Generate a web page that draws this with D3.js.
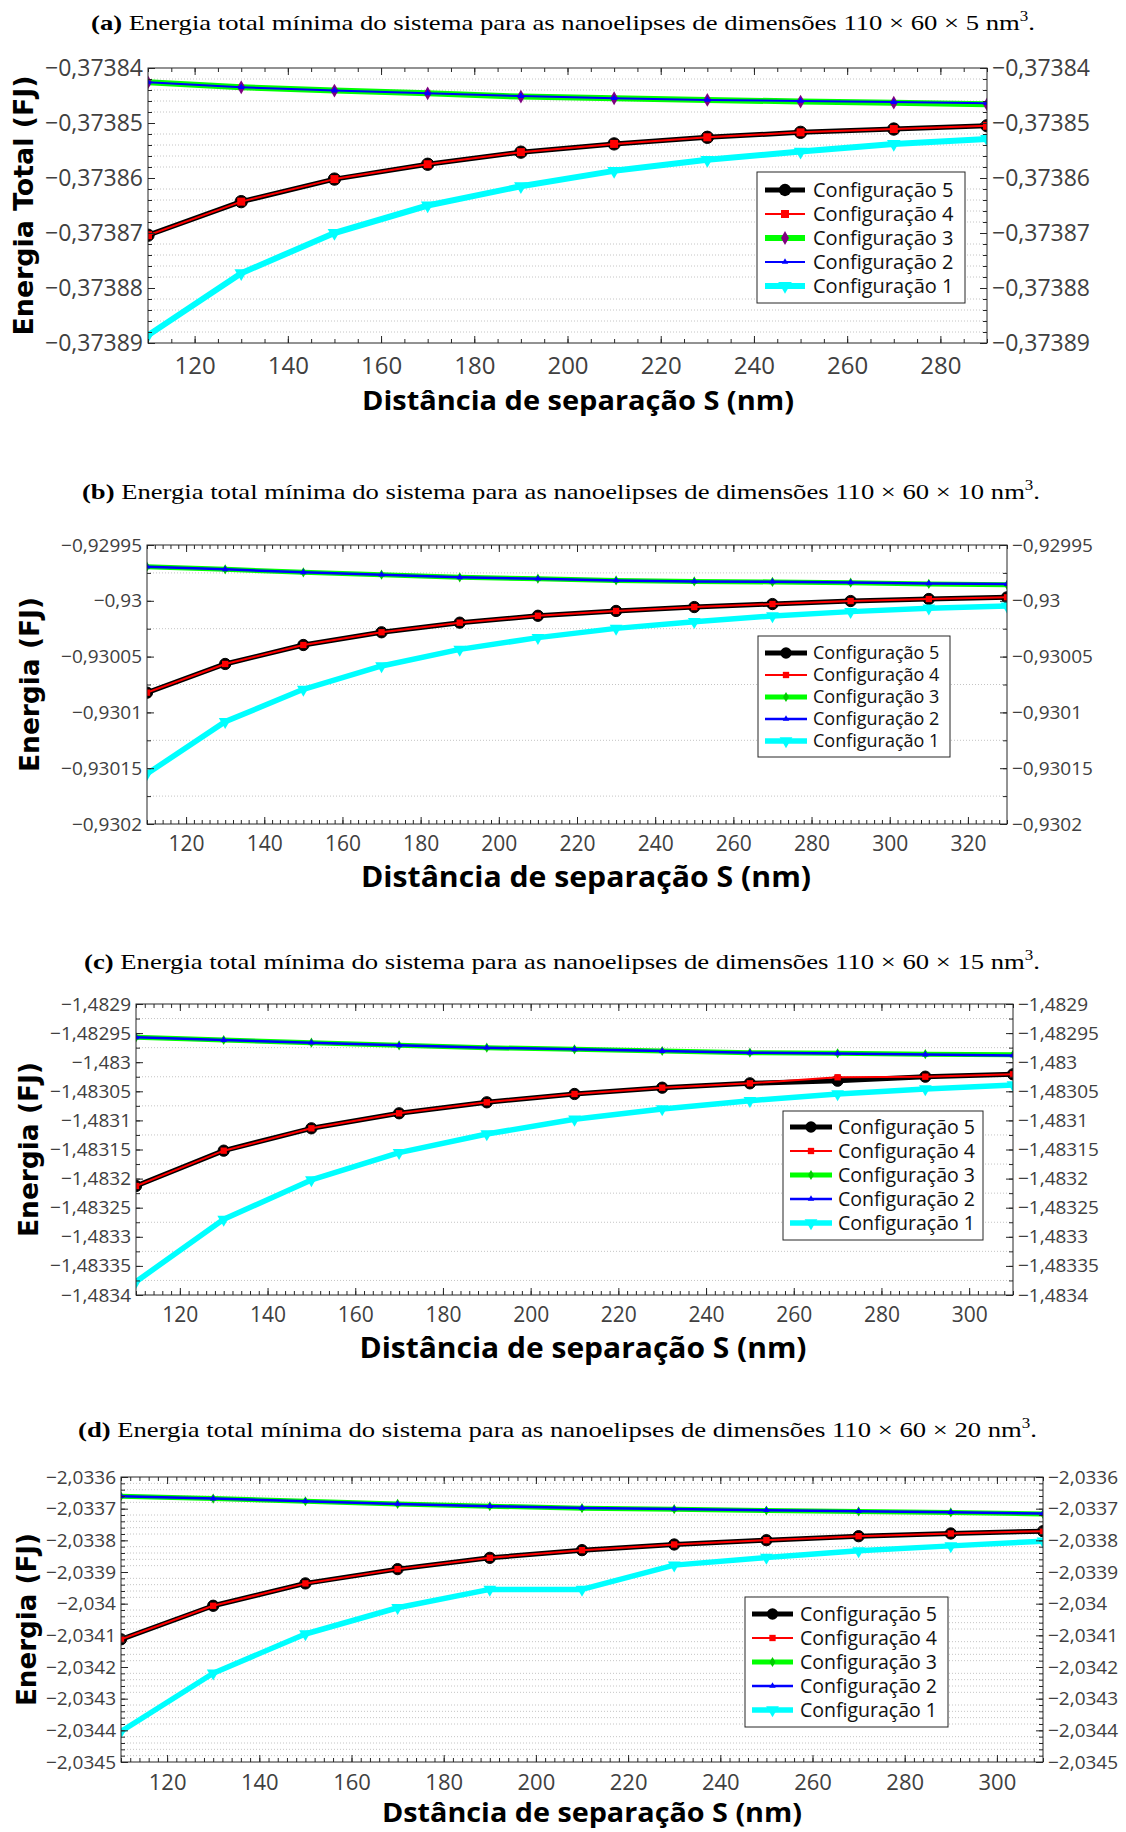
<!DOCTYPE html>
<html>
<head>
<meta charset="utf-8">
<script src="https://cdn.jsdelivr.net/npm/d3@7"></script>
<style>
	body { margin: 0; background: #fff; }
	svg { display: block; }
</style>
</head>
<body>
<div id="chart"></div>
<script>

// separation distances S (nm)
const sepA = [110, 130, 150, 170, 190, 210, 230, 250, 270, 290];
const sepB = [110, 130, 150, 170, 190, 210, 230, 250, 270, 290, 310, 330];
const sepC = [110, 130, 150, 170, 190, 210, 230, 250, 270, 290, 310];
const sepD = [110, 130, 150, 170, 190, 210, 230, 250, 270, 290, 310];

const seriesNames = ['Configuração 5', 'Configuração 4', 'Configuração 3', 'Configuração 2', 'Configuração 1'];

// (a) 110 x 60 x 5 nm3
const aConf5 = [-0.3738704, -0.3738643, -0.3738602, -0.3738575, -0.3738553, -0.3738538, -0.3738526, -0.3738517, -0.3738511, -0.3738505];
const aConf4 = [-0.3738704, -0.3738643, -0.3738602, -0.3738575, -0.3738553, -0.3738538, -0.3738526, -0.3738517, -0.3738511, -0.3738505];
const aConf3 = [-0.3738426, -0.3738435, -0.3738441, -0.3738446, -0.3738452, -0.3738455, -0.3738458, -0.3738461, -0.3738463, -0.3738466];
const aConf2 = [-0.3738426, -0.3738435, -0.3738441, -0.3738446, -0.3738451, -0.3738455, -0.3738458, -0.3738460, -0.3738462, -0.3738464];
const aConf1 = [-0.3738886, -0.3738773, -0.3738700, -0.3738650, -0.3738615, -0.3738587, -0.3738567, -0.3738552, -0.3738538, -0.3738529];

// (b) 110 x 60 x 10 nm3
const bConf5 = [-0.9300823, -0.9300566, -0.9300396, -0.9300282, -0.9300196, -0.9300134, -0.9300091, -0.9300056, -0.9300029, -0.9300002, -0.9299984, -0.9299969];
const bConf4 = [-0.9300823, -0.9300566, -0.9300396, -0.9300282, -0.9300196, -0.9300134, -0.9300091, -0.9300056, -0.9300029, -0.9300002, -0.9299984, -0.9299969];
const bConf3 = [-0.9299694, -0.9299718, -0.9299745, -0.9299766, -0.9299790, -0.9299802, -0.9299817, -0.9299826, -0.9299831, -0.9299838, -0.9299849, -0.9299857];
const bConf2 = [-0.9299694, -0.9299718, -0.9299745, -0.9299766, -0.9299790, -0.9299802, -0.9299817, -0.9299826, -0.9299829, -0.9299835, -0.9299844, -0.9299850];
const bConf1 = [-0.9301550, -0.9301083, -0.9300793, -0.9300584, -0.9300435, -0.9300330, -0.9300247, -0.9300187, -0.9300136, -0.9300097, -0.9300067, -0.9300047];

// (c) 110 x 60 x 15 nm3
const cConf5 = [-1.4832127, -1.4831520, -1.4831136, -1.4830878, -1.4830689, -1.4830546, -1.4830438, -1.4830363, -1.4830318, -1.4830249, -1.4830208];
const cConf4 = [-1.4832127, -1.4831520, -1.4831136, -1.4830878, -1.4830689, -1.4830546, -1.4830438, -1.4830363, -1.4830259, -1.4830249, -1.4830208];
const cConf3 = [-1.4829572, -1.4829619, -1.4829665, -1.4829710, -1.4829751, -1.4829779, -1.4829808, -1.4829837, -1.4829847, -1.4829862, -1.4829870];
const cConf2 = [-1.4829572, -1.4829619, -1.4829665, -1.4829710, -1.4829751, -1.4829779, -1.4829808, -1.4829837, -1.4829849, -1.4829868, -1.4829885];
const cConf1 = [-1.4833771, -1.4832700, -1.4832024, -1.4831554, -1.4831234, -1.4830981, -1.4830804, -1.4830661, -1.4830546, -1.4830460, -1.4830392];

// (d) 110 x 60 x 20 nm3
const dConf5 = [-2.0341125, -2.0340066, -2.0339360, -2.0338909, -2.0338553, -2.0338310, -2.0338131, -2.0337995, -2.0337869, -2.0337784, -2.0337711];
const dConf4 = [-2.0341125, -2.0340066, -2.0339360, -2.0338909, -2.0338553, -2.0338310, -2.0338131, -2.0337995, -2.0337869, -2.0337784, -2.0337711];
const dConf3 = [-2.0336608, -2.0336681, -2.0336766, -2.0336851, -2.0336923, -2.0336985, -2.0337015, -2.0337058, -2.0337088, -2.0337120, -2.0337165];
const dConf2 = [-2.0336608, -2.0336681, -2.0336766, -2.0336851, -2.0336923, -2.0336977, -2.0337008, -2.0337049, -2.0337081, -2.0337112, -2.0337155];
const dConf1 = [-2.0344037, -2.0342197, -2.0340958, -2.0340129, -2.0339549, -2.0339549, -2.0338783, -2.0338541, -2.0338332, -2.0338175, -2.0338026];

// tick labels
const aXTicks = [120, 140, 160, 180, 200, 220, 240, 260, 280];
const aYTicks = [-0.37389, -0.37388, -0.37387, -0.37386, -0.37385, -0.37384];
const bXTicks = [120, 140, 160, 180, 200, 220, 240, 260, 280, 300, 320];
const bYTicks = [-0.9302, -0.93015, -0.9301, -0.93005, -0.93, -0.92995];
const cXTicks = [120, 140, 160, 180, 200, 220, 240, 260, 280, 300];
const cYTicks = [-1.4834, -1.48335, -1.4833, -1.48325, -1.4832, -1.48315, -1.4831, -1.48305, -1.483, -1.48295, -1.4829];
const dXTicks = [120, 140, 160, 180, 200, 220, 240, 260, 280, 300];
const dYTicks = [-2.0345, -2.0344, -2.0343, -2.0342, -2.0341, -2.034, -2.0339, -2.0338, -2.0337, -2.0336];

const W = 1126, H = 1832;
const axisColor = '#262626';
const labelColor = '#404040';

// line / marker looks, in legend order (5, 4, 3, 2, 1)
const looksBig = [
	{ color: '#000000', width: 5, marker: d3.symbolCircle, size: 120, fill: '#000000', rot: 0 },
	{ color: '#ff0000', width: 2, marker: d3.symbolSquare, size: 64, fill: '#ff0000', rot: 0 },
	{ color: '#00ff00', width: 6, marker: d3.symbolDiamond, size: 55, fill: '#800080', rot: 0 },
	{ color: '#0000ff', width: 2, marker: d3.symbolTriangle, size: 18, fill: '#0000ff', rot: 0 },
	{ color: '#00ffff', width: 6, marker: d3.symbolTriangle, size: 80, fill: '#00ffff', rot: 180 }
];
const looksSmall = [
	{ color: '#000000', width: 5, marker: d3.symbolCircle, size: 100, fill: '#000000', rot: 0 },
	{ color: '#ff0000', width: 2, marker: d3.symbolSquare, size: 40, fill: '#ff0000', rot: 0 },
	{ color: '#00ff00', width: 5, marker: d3.symbolDiamond, size: 30, fill: '#00cc00', rot: 0 },
	{ color: '#0000ff', width: 2.5, marker: d3.symbolTriangle, size: 18, fill: '#0000ff', rot: 0 },
	{ color: '#00ffff', width: 5.5, marker: d3.symbolTriangle, size: 70, fill: '#00ffff', rot: 180 }
];

const panels = [
	{
		tag: '(a)', dims: '110 × 60 × 5 nm', titleX: 91, titleY: 30, titleW: 944,
		sep: sepA, data: [aConf5, aConf4, aConf3, aConf2, aConf1], looks: looksBig,
		xTicks: aXTicks, yTicks: aYTicks, xDomain: [110, 290], xMinor: 5, yMinor: 2e-6,
		left: 148, right: 987, top: 68, bottom: 343,
		yFont: 23, xFont: 24, xPad: 14,
		yLabel: 'Energia Total (FJ)', yLabelX: 33, yLabelW: 260,
		xLabel: 'Distância de separação S (nm)', xLabelX: 578, xLabelY: 410, xLabelW: 432, xLabelSize: 27,
		legend: { x: 757, y: 172, w: 208, h: 131, row0: 190, step: 24, x1: 765, x2: 805, tx: 813, font: 20 }
	},
	{
		tag: '(b)', dims: '110 × 60 × 10 nm', titleX: 82, titleY: 499, titleW: 958,
		sep: sepB, data: [bConf5, bConf4, bConf3, bConf2, bConf1], looks: looksSmall,
		xTicks: bXTicks, yTicks: bYTicks, xDomain: [110, 330], xMinor: 2, yMinor: 2.5e-5,
		left: 147, right: 1007, top: 545, bottom: 824,
		yFont: 19, xFont: 21, xPad: 12,
		yLabel: 'Energia (FJ)', yLabelX: 39, yLabelW: 175,
		xLabel: 'Distância de separação S (nm)', xLabelX: 586, xLabelY: 887, xLabelW: 450, xLabelSize: 28,
		legend: { x: 758, y: 636, w: 192, h: 121, row0: 653, step: 22, x1: 765, x2: 807, tx: 813, font: 18 }
	},
	{
		tag: '(c)', dims: '110 × 60 × 15 nm', titleX: 84, titleY: 969, titleW: 956,
		sep: sepC, data: [cConf5, cConf4, cConf3, cConf2, cConf1], looks: looksSmall,
		xTicks: cXTicks, yTicks: cYTicks, xDomain: [110, 310], xMinor: 2, yMinor: 2.5e-5,
		left: 136, right: 1013, top: 1004, bottom: 1295,
		yFont: 19, xFont: 21, xPad: 12,
		yLabel: 'Energia (FJ)', yLabelX: 38, yLabelW: 175,
		xLabel: 'Distância de separação S (nm)', xLabelX: 583, xLabelY: 1358, xLabelW: 447, xLabelSize: 28,
		legend: { x: 783, y: 1111, w: 200, h: 129, row0: 1127, step: 24, x1: 790, x2: 832, tx: 838, font: 19.5 }
	},
	{
		tag: '(d)', dims: '110 × 60 × 20 nm', titleX: 78, titleY: 1437, titleW: 959,
		sep: sepD, data: [dConf5, dConf4, dConf3, dConf2, dConf1], looks: looksSmall,
		xTicks: dXTicks, yTicks: dYTicks, xDomain: [110, 310], xMinor: 2, yMinor: 2e-5,
		left: 121, right: 1043, top: 1477, bottom: 1762,
		yFont: 19, xFont: 22, xPad: 12,
		yLabel: 'Energia (FJ)', yLabelX: 36, yLabelW: 173,
		xLabel: 'Dstância de separação S (nm)', xLabelX: 592, xLabelY: 1822, xLabelW: 420, xLabelSize: 27,
		legend: { x: 745, y: 1597, w: 203, h: 130, row0: 1614, step: 24, x1: 752, x2: 793, tx: 800, font: 19.5 }
	}
];

const locale = d3.formatLocale({ decimal: ',', thousands: '.', grouping: [3], currency: ['', ''], minus: '\u2212' });
const yFormat = locale.format('.6~f');

const svg = d3.select('#chart').append('svg')
	.attr('width', W)
	.attr('height', H)
	.style('font-family', '"Open Sans", sans-serif');

svg.append('rect').attr('width', W).attr('height', H).attr('fill', '#fff');

const symbolPath = function (look) {
	return d3.symbol().type(look.marker).size(look.size)();
};

panels.forEach(function (p, pi) {

	let g = svg.append('g');

	var x = d3.scaleLinear().domain(p.xDomain).range([p.left, p.right]);
	var yMin = p.yTicks[0], yMax = p.yTicks[p.yTicks.length - 1];
	var y = d3.scaleLinear().domain([yMin, yMax]).range([p.bottom, p.top]);

	var nMinor = Math.round((yMax - yMin) / p.yMinor);
	var yMinors = d3.range(nMinor + 1).map(function (i) { return yMin + i * p.yMinor; });
	var xMinors = d3.range(p.xDomain[0], p.xDomain[1] + 0.001, p.xMinor);

	// dotted minor grid (horizontal only)
	var gridVals = yMinors.filter(function (v) {
		return !p.yTicks.some(function (t) { return Math.abs(t - v) < p.yMinor / 10; });
	});
	g.append('g').selectAll('line')
		.data(gridVals)
		.join('line')
		.attr('x1', p.left).attr('x2', p.right)
		.attr('y1', function (d) { return y(d); })
		.attr('y2', function (d) { return y(d); })
		.attr('stroke', '#c4c4c4')
		.attr('stroke-width', 1)
		.attr('stroke-dasharray', '1 2');

	// series
	var clipId = 'clip' + pi;
	svg.append('clipPath').attr('id', clipId)
		.append('rect')
		.attr('x', p.left).attr('y', p.top)
		.attr('width', p.right - p.left).attr('height', p.bottom - p.top);

	var plot = g.append('g').attr('clip-path', 'url(#' + clipId + ')');

	p.data.forEach(function (vals, si) {
		let look = p.looks[si];
		let line = d3.line()
			.x(function (d, i) { return x(p.sep[i]); })
			.y(function (d) { return y(d); });
		plot.append('path')
			.datum(vals)
			.attr('d', line)
			.attr('fill', 'none')
			.attr('stroke', look.color)
			.attr('stroke-width', look.width)
			.attr('stroke-linejoin', 'round');
		plot.append('g').selectAll('path')
			.data(vals)
			.join('path')
			.attr('d', symbolPath(look))
			.attr('transform', function (d, i) {
				return 'translate(' + x(p.sep[i]) + ',' + y(d) + ') rotate(' + look.rot + ')';
			})
			.attr('fill', look.fill)
			.attr('stroke', si === 0 ? '#000' : 'none')
			.attr('stroke-width', 1);
	});

	// axes
	var styleAxis = function (sel, size) {
		sel.select('.domain').remove();
		sel.selectAll('line').attr('stroke', axisColor);
		sel.selectAll('text')
			.attr('fill', labelColor)
			.style('font-size', size + 'px')
			.style('font-family', '"Open Sans", sans-serif');
	};

	g.append('g').attr('transform', 'translate(0,' + p.bottom + ')')
		.call(d3.axisBottom(x).tickValues(xMinors).tickSize(-4).tickFormat(''))
		.call(styleAxis, p.xFont);
	g.append('g').attr('transform', 'translate(0,' + p.bottom + ')')
		.call(d3.axisBottom(x).tickValues(p.xTicks).tickSize(-7).tickPadding(p.xPad).tickFormat(d3.format('d')))
		.call(styleAxis, p.xFont);
	g.append('g').attr('transform', 'translate(0,' + p.top + ')')
		.call(d3.axisTop(x).tickValues(xMinors).tickSize(-4).tickFormat(''))
		.call(styleAxis, p.xFont);
	g.append('g').attr('transform', 'translate(0,' + p.top + ')')
		.call(d3.axisTop(x).tickValues(p.xTicks).tickSize(-7).tickFormat(''))
		.call(styleAxis, p.xFont);

	g.append('g').attr('transform', 'translate(' + p.left + ',0)')
		.call(d3.axisLeft(y).tickValues(yMinors).tickSize(-4).tickFormat(''))
		.call(styleAxis, p.yFont);
	g.append('g').attr('transform', 'translate(' + p.left + ',0)')
		.call(d3.axisLeft(y).tickValues(p.yTicks).tickSize(-7).tickPadding(5).tickFormat(yFormat))
		.call(styleAxis, p.yFont);
	g.append('g').attr('transform', 'translate(' + p.right + ',0)')
		.call(d3.axisRight(y).tickValues(yMinors).tickSize(-4).tickFormat(''))
		.call(styleAxis, p.yFont);
	g.append('g').attr('transform', 'translate(' + p.right + ',0)')
		.call(d3.axisRight(y).tickValues(p.yTicks).tickSize(-7).tickPadding(5).tickFormat(yFormat))
		.call(styleAxis, p.yFont);

	g.append('rect')
		.attr('x', p.left).attr('y', p.top)
		.attr('width', p.right - p.left).attr('height', p.bottom - p.top)
		.attr('fill', 'none')
		.attr('stroke', axisColor)
		.attr('stroke-width', 1);

	// legend
	let lg = p.legend;
	let leg = g.append('g');
	leg.append('rect')
		.attr('x', lg.x).attr('y', lg.y).attr('width', lg.w).attr('height', lg.h)
		.attr('fill', '#fff').attr('stroke', axisColor).attr('stroke-width', 1);
	seriesNames.forEach(function (name, si) {
		let look = p.looks[si];
		let ry = lg.row0 + si * lg.step;
		leg.append('line')
			.attr('x1', lg.x1).attr('x2', lg.x2).attr('y1', ry).attr('y2', ry)
			.attr('stroke', look.color).attr('stroke-width', look.width);
		leg.append('path')
			.attr('d', symbolPath(look))
			.attr('transform', 'translate(' + (lg.x1 + lg.x2) / 2 + ',' + ry + ') rotate(' + look.rot + ')')
			.attr('fill', look.fill);
		leg.append('text')
			.attr('x', lg.tx).attr('y', ry)
			.attr('dy', '0.35em')
			.attr('fill', '#111')
			.style('font-size', lg.font + 'px')
			.text(name);
	});

	// axis labels
	g.append('text')
		.attr('transform', 'translate(' + p.yLabelX + ',' + (p.top + p.bottom) / 2 + ') rotate(-90)')
		.attr('text-anchor', 'middle')
		.attr('textLength', p.yLabelW)
		.attr('lengthAdjust', 'spacingAndGlyphs')
		.style('font-family', '"DejaVu Sans", sans-serif')
		.style('font-weight', 'bold')
		.style('font-size', '26px')
		.attr('fill', '#000')
		.text(p.yLabel);

	g.append('text')
		.attr('x', p.xLabelX).attr('y', p.xLabelY)
		.attr('text-anchor', 'middle')
		.attr('textLength', p.xLabelW)
		.attr('lengthAdjust', 'spacingAndGlyphs')
		.style('font-weight', 'bold')
		.style('font-size', p.xLabelSize + 'px')
		.attr('fill', '#000')
		.text(p.xLabel);

	// caption (glyphs stretched to the width of the original)
	let title = g.append('text')
		.attr('x', p.titleX).attr('y', p.titleY)
		.attr('textLength', p.titleW)
		.attr('lengthAdjust', 'spacingAndGlyphs')
		.style('font-family', '"Liberation Serif", "Times New Roman", serif')
		.style('font-size', '22px')
		.attr('fill', '#000');
	title.append('tspan').style('font-weight', 'bold').text(p.tag);
	title.append('tspan').text(' Energia total mínima do sistema para as nanoelipses de dimensões ' + p.dims);
	title.append('tspan').attr('dy', -9).style('font-size', '14px').text('3');
	title.append('tspan').attr('dy', 9).text('.');
});

</script>
</body>
</html>
